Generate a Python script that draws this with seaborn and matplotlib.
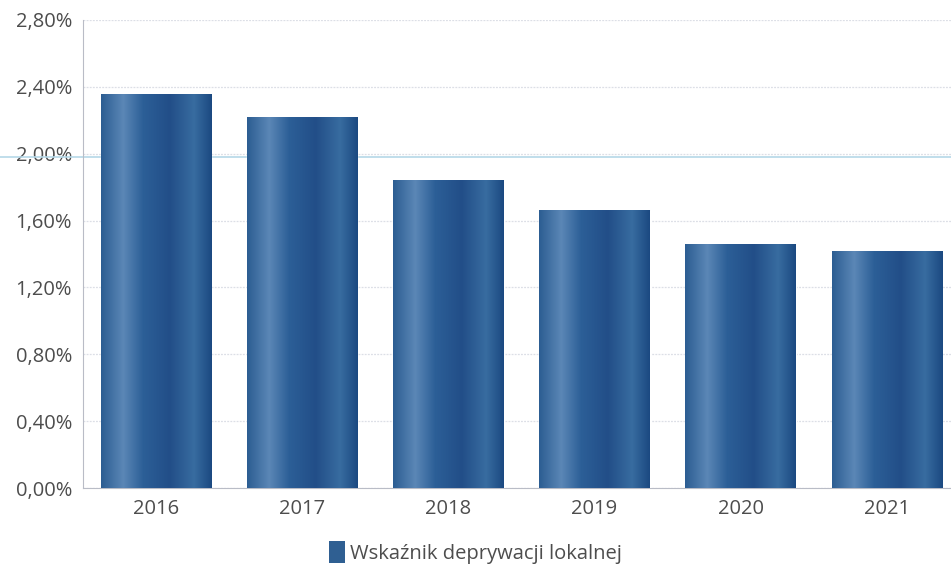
import numpy as np
import pandas as pd
import matplotlib
matplotlib.use('Agg')
import matplotlib.pyplot as plt
from matplotlib.colors import LinearSegmentedColormap
from matplotlib.ticker import FuncFormatter, MultipleLocator
from matplotlib.patches import Patch
import seaborn as sns

# Data
years = ['2016', '2017', '2018', '2019', '2020', '2021']
values = [2.36, 2.22, 1.845, 1.665, 1.46, 1.415]
series_name = 'Wskaźnik deprywacji lokalnej'

df = pd.DataFrame({'rok': years, 'wartosc': values})

sns.set_theme(style='white')
plt.rcParams['font.family'] = ['Open Sans', 'DejaVu Sans']

fig = plt.figure(figsize=(9.51, 5.66), dpi=100)
ax = fig.add_axes([0.0873, 0.1378, 0.922, 0.8269])

sns.barplot(data=df, x='rok', y='wartosc', color='#2a5a8e', width=0.755,
            saturation=1, ax=ax, zorder=3)

# cylinder-like shading on each bar
shade = LinearSegmentedColormap.from_list('shade', [
    (0.0, '#2c5d92'), (0.2, '#5b87b6'), (0.38, '#2c5f97'),
    (0.62, '#224e88'), (0.84, '#386ca0'), (1.0, '#1b4981')])
grad = np.linspace(0, 1, 256).reshape(1, -1)
for bar in ax.patches:
    x0, y0 = bar.get_x(), bar.get_y()
    w, h = bar.get_width(), bar.get_height()
    im = ax.imshow(grad, cmap=shade, aspect='auto', zorder=4,
                   extent=[x0, x0 + w, y0, y0 + h])
    im.set_clip_path(bar)

ax.set_xlim(-0.5, 5.5)
ax.set_ylim(0, 2.8)
ax.yaxis.set_major_locator(MultipleLocator(0.4))
ax.yaxis.set_major_formatter(FuncFormatter(lambda v, p: f'{v:.2f}%'.replace('.', ',')))

ax.grid(axis='y', color='#dcdfe6', linestyle=(0, (1.5, 1)), linewidth=0.9, zorder=0)
ax.set_axisbelow(True)
for side in ['top', 'right']:
    ax.spines[side].set_visible(False)
ax.spines['left'].set_color('#b9bcc6')
ax.spines['bottom'].set_color('#b9bcc6')
ax.spines['left'].set_linewidth(0.8)
ax.spines['bottom'].set_linewidth(0.8)

ax.set_xlabel('')
ax.set_ylabel('')
ax.tick_params(axis='both', length=0, labelsize=14.5, labelcolor='#4d4d4d')
ax.tick_params(axis='y', pad=8)
ax.tick_params(axis='x', pad=8)

# faint blue scan line near 2,00%
ax.axhline(1.98, color='#b5d8e8', linewidth=1.2, zorder=2, clip_on=False, xmin=-0.1)

handle = Patch(facecolor='#2f5f92', edgecolor='none')
fig.legend([handle], [series_name], loc='lower center', bbox_to_anchor=(0.5, -0.028),
           frameon=False, fontsize=14.5, labelcolor='#4d4d4d',
           handlelength=0.8, handleheight=1.3, handletextpad=0.25)

fig.savefig('out.png', dpi=100)
